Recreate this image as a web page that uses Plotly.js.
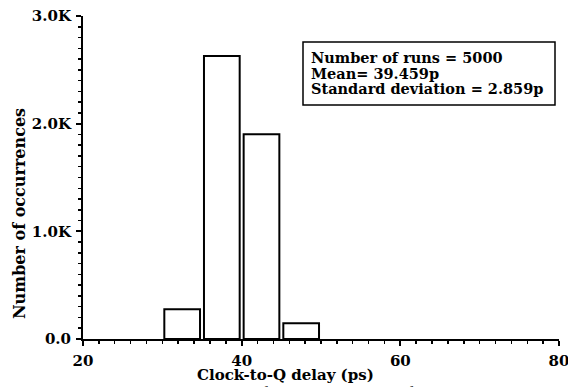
<!DOCTYPE html>
<html>
<head>
<meta charset="utf-8">
<script src="https://cdn.plot.ly/plotly-3.0.1.min.js"></script>
<style>html,body{margin:0;padding:0;background:#fff;}#chart{width:568px;height:387px;}</style>
</head>
<body>
<div id="chart"></div>
<script>
// Data
const binCenters = [32.5, 37.5, 42.5, 47.5];   // Clock-to-Q delay (ps)
const binCounts  = [276, 2628, 1901, 146];      // Number of occurrences
const yTickVals  = [0, 1000, 2000, 3000];
const yTickText  = ["0.0", "1.0K", "2.0K", "3.0K"];
const xTickVals  = [20, 40, 60, 80];
const xTitle = "Clock-to-Q delay (ps)";
const yTitle = "Number of occurrences";
const statsLines = ["Number of runs = 5000", "Mean= 39.459p", "Standard deviation = 2.859p"];
const captionText = "<b>Figure 3.</b> Monte Carlo simulation of clock-to-Q delay of the";

const FONT = "DejaVu Serif, Liberation Serif, serif";
// helpers: pixel -> paper coordinates (plot area: x 83..559, y 16..339)
const px = v => (v - 83) / 476;
const py = v => 1 - (v - 16) / 323;

const trace = {
  type: "bar",
  x: binCenters,
  y: binCounts,
  width: 4.5,
  marker: {color: "#ffffff", line: {color: "#000000", width: 2}},
  hoverinfo: "skip"
};

const annotations = statsLines.map((t, i) => ({
  text: "<b>" + t + "</b>",
  xref: "paper", yref: "paper",
  x: px(310), y: py(57 + i * 16),
  xanchor: "left", yanchor: "middle",
  borderpad: 0,
  showarrow: false,
  font: {family: FONT, size: 14.5, color: "#000"}
}));
annotations.push({
  text: "<b>" + xTitle + "</b>",
  xref: "paper", yref: "paper",
  x: px(285), y: py(375),
  xanchor: "center", yanchor: "middle",
  borderpad: 0,
  showarrow: false,
  font: {family: FONT, size: 15, color: "#000"}
});
annotations.push({
  text: "<b>" + yTitle + "</b>",
  xref: "paper", yref: "paper",
  x: px(19), y: py(214),
  xanchor: "center", yanchor: "middle",
  textangle: -90,
  showarrow: false,
  font: {family: FONT, size: 16, color: "#000"}
});
annotations.push({
  text: captionText,
  xref: "paper", yref: "paper",
  x: px(2), y: py(383),
  xanchor: "left", yanchor: "top",
  borderpad: 0,
  showarrow: false,
  font: {family: "Liberation Serif, serif", size: 18, color: "#000"}
});

const layout = {
  width: 568, height: 387,
  margin: {l: 83, r: 9, t: 16, b: 48, pad: 0},
  paper_bgcolor: "#fff", plot_bgcolor: "#fff",
  showlegend: false,
  bargap: 0,
  xaxis: {
    range: [20, 80],
    tickvals: xTickVals,
    ticks: "outside", ticklen: 5, tickwidth: 2, tickcolor: "#000",
    minor: {dtick: 2, tick0: 20, ticks: "outside", ticklen: 3, tickwidth: 1.5, tickcolor: "#000"},
    showline: true, linewidth: 2, linecolor: "#000",
    showgrid: false, zeroline: false,
    ticklabelstandoff: 2,
    ticklabeloverflow: "allow",
    tickfont: {family: FONT, size: 15, color: "#000", weight: "bold"}
  },
  yaxis: {
    range: [0, 3000],
    tickvals: yTickVals, ticktext: yTickText,
    ticks: "outside", ticklen: 5, tickwidth: 2, tickcolor: "#000",
    minor: {dtick: 100, tick0: 0, ticks: "outside", ticklen: 3, tickwidth: 1.5, tickcolor: "#000"},
    showline: true, linewidth: 2, linecolor: "#000",
    showgrid: false, zeroline: false,
    ticklabelstandoff: 2,
    ticklabeloverflow: "allow",
    tickfont: {family: FONT, size: 15, color: "#000", weight: "bold"}
  },
  shapes: [{
    type: "rect", xref: "paper", yref: "paper",
    x0: px(303), x1: px(555),
    y0: py(105), y1: py(42),
    line: {color: "#000", width: 1.5}, fillcolor: "rgba(0,0,0,0)"
  }],
  annotations: annotations
};

Plotly.newPlot("chart", [trace], layout, {displayModeBar: false, staticPlot: true});
</script>
</body>
</html>
